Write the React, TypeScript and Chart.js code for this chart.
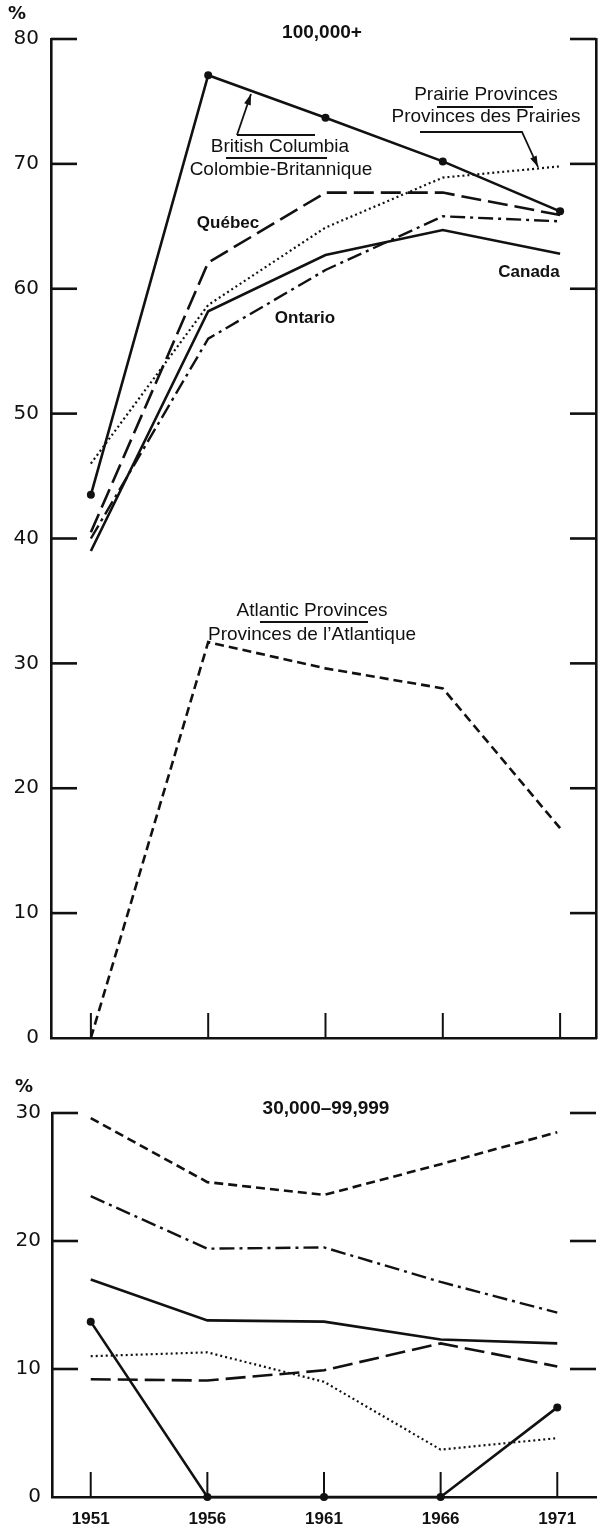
import React, { useEffect, useRef } from "react";
import { Chart, registerables } from "chart.js";

Chart.register(...registerables);

// ---------- data ----------
const YEARS = [1951, 1956, 1961, 1966, 1971];
const YEAR_LABELS = ["1951", "1956", "1961", "1966", "1971"];

const TOP_TICKS = [0, 10, 20, 30, 40, 50, 60, 70, 80];
const BOTTOM_TICKS = [0, 10, 20, 30];

// 100,000+
const TOP_CANADA = [39.0, 58.2, 62.7, 64.7, 62.8];
const TOP_BC = [43.5, 77.1, 73.7, 70.2, 66.2];
const TOP_QUEBEC = [40.5, 62.1, 67.7, 67.7, 65.9];
const TOP_ONTARIO = [40.0, 56.0, 61.5, 65.8, 65.4];
const TOP_PRAIRIE = [46.0, 58.7, 64.9, 68.9, 69.8];
const TOP_ATLANTIC = [0.0, 31.7, 29.6, 28.0, 16.8];

// 30,000-99,999
const BOT_CANADA = [17.0, 13.8, 13.7, 12.3, 12.0];
const BOT_BC = [13.7, 0.0, 0.0, 0.0, 7.0];
const BOT_QUEBEC = [9.2, 9.1, 9.9, 12.0, 10.2];
const BOT_ONTARIO = [23.5, 19.4, 19.5, 16.8, 14.4];
const BOT_PRAIRIE = [11.0, 11.3, 9.0, 3.7, 4.6];
const BOT_ATLANTIC = [29.6, 24.6, 23.6, 26.0, 28.5];

// ---------- styles ----------
const INK = "#111";
const STYLE_SOLID = { borderDash: [] as number[], borderWidth: 2.6 };
const STYLE_LONGDASH = { borderDash: [20, 7], borderWidth: 2.6 };
const STYLE_DASHDOT = { borderDash: [15, 5, 3, 5], borderWidth: 2.4 };
const STYLE_DOT = { borderDash: [2, 3], borderWidth: 2.2 };
const STYLE_SHORTDASH = { borderDash: [9, 5], borderWidth: 2.6 };

function series(values: number[], style: { borderDash: number[]; borderWidth: number }, dots = false) {
  return {
    data: YEARS.map((x, i) => ({ x, y: values[i] })),
    borderColor: INK,
    backgroundColor: INK,
    borderWidth: style.borderWidth,
    borderDash: style.borderDash,
    pointRadius: dots ? 4 : 0,
    pointHoverRadius: 0,
    pointBackgroundColor: INK,
    pointBorderWidth: 0,
    tension: 0,
    fill: false,
    clip: 6,
  };
}

function drawArrow(ctx: CanvasRenderingContext2D, pts: number[][]) {
  ctx.save();
  ctx.strokeStyle = INK;
  ctx.fillStyle = INK;
  ctx.lineWidth = 1.8;
  ctx.beginPath();
  ctx.moveTo(pts[0][0], pts[0][1]);
  for (let i = 1; i < pts.length; i++) ctx.lineTo(pts[i][0], pts[i][1]);
  ctx.stroke();
  const [x1, y1] = pts[pts.length - 2];
  const [x2, y2] = pts[pts.length - 1];
  const a = Math.atan2(y2 - y1, x2 - x1);
  const L = 11, W = 3.5;
  ctx.beginPath();
  ctx.moveTo(x2, y2);
  ctx.lineTo(x2 - L * Math.cos(a) + W * Math.sin(a), y2 - L * Math.sin(a) - W * Math.cos(a));
  ctx.lineTo(x2 - L * Math.cos(a) - W * Math.sin(a), y2 - L * Math.sin(a) + W * Math.cos(a));
  ctx.closePath();
  ctx.fill();
  ctx.restore();
}

function hline(ctx: CanvasRenderingContext2D, x1: number, x2: number, y: number, w = 1.8) {
  ctx.save();
  ctx.strokeStyle = INK;
  ctx.lineWidth = w;
  ctx.beginPath();
  ctx.moveTo(x1, y);
  ctx.lineTo(x2, y);
  ctx.stroke();
  ctx.restore();
}

function text(ctx: CanvasRenderingContext2D, s: string, x: number, y: number, font: string) {
  ctx.save();
  ctx.fillStyle = INK;
  ctx.font = font;
  ctx.textAlign = "center";
  ctx.textBaseline = "middle";
  ctx.fillText(s, x, y);
  ctx.restore();
}

const LABEL_FONT = "19px 'Liberation Sans', Arial, sans-serif";
const BOLD_LABEL_FONT = "bold 17px 'Liberation Sans', Arial, sans-serif";
const TITLE_FONT = "bold 19px 'Liberation Sans', Arial, sans-serif";
const PCT_FONT = "bold 18px 'DejaVu Sans', sans-serif";
const TICK_FONT = { family: "'DejaVu Sans', sans-serif", size: 20 };

function innerTicksPlugin(yTicks: number[], rightTicks: boolean) {
  return {
    id: "innerTicks",
    afterDatasetsDraw(chart: any) {
      const ctx: CanvasRenderingContext2D = chart.ctx;
      const { left, right, bottom } = chart.chartArea;
      const ys = chart.scales.y;
      const xs = chart.scales.x;
      ctx.save();
      ctx.strokeStyle = INK;
      ctx.lineWidth = 2.6;
      yTicks.forEach((v) => {
        if (v === 0) return;
        const py = ys.getPixelForValue(v);
        ctx.beginPath();
        ctx.moveTo(left, py);
        ctx.lineTo(left + 26, py);
        ctx.stroke();
        if (rightTicks) {
          ctx.beginPath();
          ctx.moveTo(right - 26, py);
          ctx.lineTo(right, py);
          ctx.stroke();
        }
      });
      ctx.lineWidth = 2;
      YEARS.forEach((yr) => {
        const px = xs.getPixelForValue(yr);
        ctx.beginPath();
        ctx.moveTo(px, bottom);
        ctx.lineTo(px, bottom - 25);
        ctx.stroke();
      });
      ctx.restore();
    },
  };
}

function TopChart() {
  const ref = useRef<HTMLCanvasElement>(null);
  useEffect(() => {
    if (!ref.current) return;
    const chart = new Chart(ref.current, {
      type: "line",
      data: {
        datasets: [
          series(TOP_CANADA, STYLE_SOLID),
          series(TOP_BC, STYLE_SOLID, true),
          series(TOP_QUEBEC, STYLE_LONGDASH),
          series(TOP_ONTARIO, STYLE_DASHDOT),
          series(TOP_PRAIRIE, STYLE_DOT),
          series(TOP_ATLANTIC, STYLE_SHORTDASH),
        ] as any,
      },
      options: {
        animation: false,
        responsive: false,
        events: [],
        layout: { padding: { top: 39, left: 0, right: 0, bottom: 0 } },
        plugins: { legend: { display: false }, tooltip: { enabled: false } },
        scales: {
          x: {
            type: "linear",
            min: 1949.3,
            max: 1972.53,
            afterBuildTicks: (s: any) => { s.ticks = YEARS.map((v) => ({ value: v })); },
            ticks: { display: false },
            grid: { display: false, drawTicks: false },
            border: { display: true, width: 2.6, color: INK },
            afterFit: (s: any) => { s.height = 11; },
          },
          y: {
            type: "linear",
            position: "left",
            min: 0,
            max: 80,
            afterBuildTicks: (s: any) => { s.ticks = TOP_TICKS.map((v) => ({ value: v })); },
            ticks: { color: INK, font: TICK_FONT, padding: 12 },
            grid: { display: false, drawTicks: false },
            border: { display: true, width: 2.6, color: INK },
            afterFit: (s: any) => { s.width = 51; },
          },
          y2: {
            type: "linear",
            position: "right",
            min: 0,
            max: 80,
            ticks: { display: false },
            grid: { display: false, drawTicks: false },
            border: { display: true, width: 2.6, color: INK },
            afterFit: (s: any) => { s.width = 3; },
          },
        },
      } as any,
      plugins: [
        innerTicksPlugin(TOP_TICKS, true),
        {
          id: "topAnnotations",
          afterDraw(c: any) {
            const ctx: CanvasRenderingContext2D = c.ctx;
            text(ctx, "%", 17, 14, PCT_FONT);
            text(ctx, "100,000+", 322, 33, TITLE_FONT);
            // British Columbia
            text(ctx, "British Columbia", 280, 147, LABEL_FONT);
            text(ctx, "Colombie-Britannique", 281, 170, LABEL_FONT);
            hline(ctx, 226, 327, 158);
            hline(ctx, 237, 315, 135);
            drawArrow(ctx, [[237, 135], [251, 94]]);
            // Prairie Provinces
            text(ctx, "Prairie Provinces", 486, 95, LABEL_FONT);
            text(ctx, "Provinces des Prairies", 486, 117, LABEL_FONT);
            hline(ctx, 437, 533, 107);
            drawArrow(ctx, [[420, 132], [522, 132], [538, 167]]);
            // others
            text(ctx, "Québec", 228, 223, BOLD_LABEL_FONT);
            text(ctx, "Ontario", 305, 318, BOLD_LABEL_FONT);
            text(ctx, "Canada", 529, 272, BOLD_LABEL_FONT);
            // Atlantic
            text(ctx, "Atlantic Provinces", 312, 611, LABEL_FONT);
            text(ctx, "Provinces de l’Atlantique", 312, 635, LABEL_FONT);
            hline(ctx, 260, 368, 622);
          },
        },
      ],
    });
    return () => chart.destroy();
  }, []);
  return <canvas ref={ref} width={600} height={1062} style={{ position: "absolute", left: 0, top: 0, width: 600, height: 1062 }} />;
}

function BottomChart() {
  const ref = useRef<HTMLCanvasElement>(null);
  useEffect(() => {
    if (!ref.current) return;
    const chart = new Chart(ref.current, {
      type: "line",
      data: {
        datasets: [
          series(BOT_CANADA, STYLE_SOLID),
          series(BOT_BC, STYLE_SOLID, true),
          series(BOT_QUEBEC, STYLE_LONGDASH),
          series(BOT_ONTARIO, STYLE_DASHDOT),
          series(BOT_PRAIRIE, STYLE_DOT),
          series(BOT_ATLANTIC, STYLE_SHORTDASH),
        ] as any,
      },
      options: {
        animation: false,
        responsive: false,
        events: [],
        layout: { padding: { top: 51, left: 0, right: 0, bottom: 0 } },
        plugins: { legend: { display: false }, tooltip: { enabled: false } },
        scales: {
          x: {
            type: "linear",
            min: 1949.34,
            max: 1972.66,
            afterBuildTicks: (s: any) => { s.ticks = YEARS.map((v) => ({ value: v })); },
            ticks: {
              color: INK,
              autoSkip: false,
              maxRotation: 0,
              padding: 12,
              font: { family: "'Liberation Sans', Arial, sans-serif", size: 17, weight: "bold" },
              callback: (v: any) => YEAR_LABELS[YEARS.indexOf(Number(v))] ?? "",
            },
            grid: { display: false, drawTicks: false },
            border: { display: true, width: 2.6, color: INK },
            afterFit: (s: any) => { s.height = 33; },
          },
          y: {
            type: "linear",
            position: "left",
            min: 0,
            max: 30,
            afterBuildTicks: (s: any) => { s.ticks = BOTTOM_TICKS.map((v) => ({ value: v })); },
            ticks: { color: INK, font: TICK_FONT, padding: 11 },
            grid: { display: false, drawTicks: false },
            border: { display: true, width: 2.6, color: INK },
            afterFit: (s: any) => { s.width = 52; },
          },
        },
      } as any,
      plugins: [
        innerTicksPlugin(BOTTOM_TICKS, true),
        {
          id: "bottomAnnotations",
          afterDraw(c: any) {
            const ctx: CanvasRenderingContext2D = c.ctx;
            text(ctx, "%", 24, 25, PCT_FONT);
            text(ctx, "30,000–99,999", 326, 47, TITLE_FONT);
          },
        },
      ],
    });
    return () => chart.destroy();
  }, []);
  return <canvas ref={ref} width={600} height={468} style={{ position: "absolute", left: 0, top: 1062, width: 600, height: 468 }} />;
}

export default function App() {
  return (
    <div style={{ position: "absolute", left: 0, top: 0, width: 600, height: 1530, background: "#fff", overflow: "hidden" }}>
      <TopChart />
      <BottomChart />
    </div>
  );
}
